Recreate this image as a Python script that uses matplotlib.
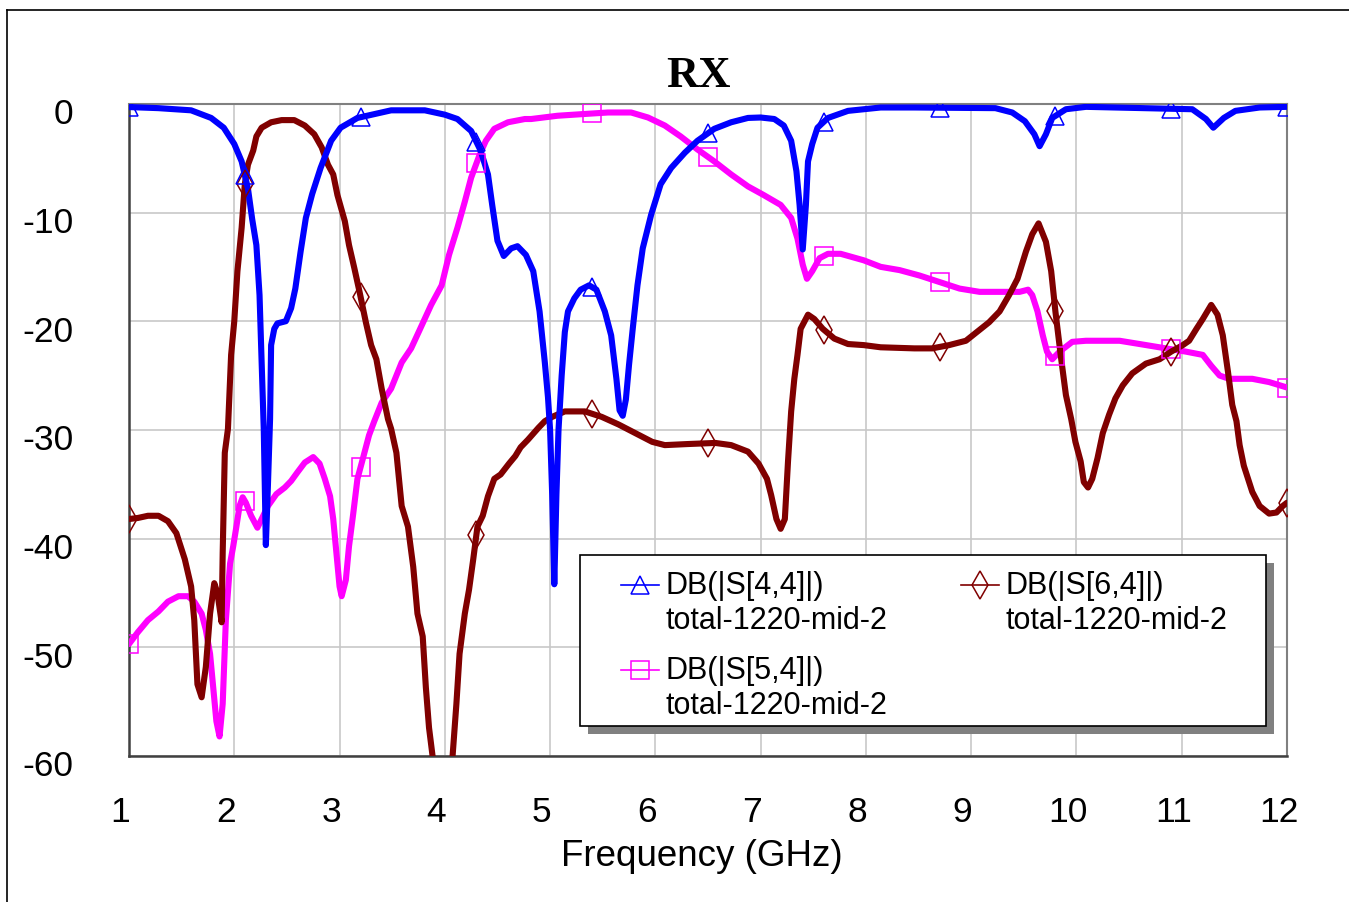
import numpy as np
import matplotlib
matplotlib.use("Agg")
import matplotlib.pyplot as plt
from matplotlib.lines import Line2D
from matplotlib.patches import Rectangle
from matplotlib.transforms import ScaledTranslation

plt.rcParams["axes.unicode_minus"] = False

# ---- data (frequency in GHz, magnitude in dB) ----
f_s44 = [1.0, 1.28, 1.59, 1.78, 1.9, 2.0, 2.07, 2.13, 2.17, 2.21, 2.24, 2.26, 2.28, 2.29, 2.30,
         2.32, 2.34, 2.35, 2.38, 2.41, 2.49, 2.54, 2.58, 2.63, 2.68, 2.74, 2.82, 2.92, 3.01, 3.17,
         3.49, 3.81, 4.0, 4.12, 4.25, 4.34, 4.41, 4.45, 4.5, 4.56, 4.63, 4.69, 4.77, 4.84, 4.9,
         4.95, 4.98, 5.0, 5.02, 5.04, 5.06, 5.08, 5.11, 5.14, 5.17, 5.23, 5.29, 5.37, 5.44, 5.52,
         5.58, 5.63, 5.66, 5.69, 5.72, 5.75, 5.785, 5.83, 5.88, 5.96, 6.05, 6.15, 6.28, 6.40, 6.56,
         6.72, 6.88, 7.0, 7.13, 7.22, 7.29, 7.34, 7.37, 7.40, 7.43, 7.45, 7.49, 7.54, 7.64, 7.83,
         8.14, 8.46, 9.23, 9.39, 9.51, 9.6, 9.65, 9.71, 9.77, 9.9, 10.09, 11.1, 11.23, 11.3, 11.4,
         11.51, 11.74, 12.0]
db_s44 = [-0.3, -0.4, -0.6, -1.3, -2.2, -3.7, -5.3, -7.8, -10.6, -13.0, -17.6, -23.8, -29.9, -35.2, -40.6,
          -35.0, -29.0, -22.2, -20.7, -20.2, -20.0, -18.8, -17.0, -13.6, -10.5, -8.3, -5.9, -3.4, -2.2, -1.3,
          -0.6, -0.6, -1.0, -1.4, -2.5, -4.3, -6.5, -9.3, -12.6, -14.0, -13.3, -13.1, -13.9, -15.4, -19.1,
          -23.8, -27.0, -30.0, -36.0, -44.2, -36.0, -30.0, -25.0, -21.0, -19.1, -17.9, -17.1, -16.7, -17.1, -19.1,
          -21.3, -25.3, -28.2, -28.7, -27.2, -24.0, -20.7, -16.7, -13.3, -10.2, -7.4, -5.9, -4.5, -3.4, -2.3,
          -1.7, -1.3, -1.26, -1.4, -2.0, -3.4, -6.2, -9.3, -13.4, -9.3, -5.3, -3.7, -2.2, -1.3, -0.65,
          -0.34, -0.34, -0.4, -0.8, -1.6, -2.8, -3.9, -2.8, -1.3, -0.5, -0.28, -0.5, -1.4, -2.2, -1.3,
          -0.65, -0.34, -0.28]

f_s64 = [1.0, 1.085, 1.18, 1.28, 1.37, 1.45, 1.53, 1.59, 1.62, 1.65, 1.69, 1.73, 1.77, 1.81, 1.84,
         1.88, 1.89, 1.91, 1.94, 1.97, 2.0, 2.03, 2.07, 2.1, 2.13, 2.18, 2.21, 2.26, 2.35, 2.45,
         2.57, 2.67, 2.76, 2.83, 2.89, 2.94, 2.98, 3.05, 3.09, 3.14, 3.19, 3.25, 3.3, 3.35, 3.4,
         3.46, 3.49, 3.54, 3.59, 3.65, 3.7, 3.74, 3.79, 3.82, 3.85, 3.89, 3.94, 3.98, 4.03, 4.07,
         4.11, 4.14, 4.19, 4.23, 4.27, 4.31, 4.36, 4.41, 4.47, 4.53, 4.61, 4.67, 4.72, 4.79, 4.89,
         4.95, 5.02, 5.14, 5.33, 5.49, 5.65, 5.81, 5.97, 6.09, 6.31, 6.57, 6.72, 6.88, 6.98, 7.06,
         7.1, 7.15, 7.19, 7.23, 7.26, 7.29, 7.32, 7.35, 7.38, 7.45, 7.51, 7.59, 7.7, 7.83, 7.98,
         8.14, 8.46, 8.63, 8.79, 8.95, 9.08, 9.17, 9.27, 9.36, 9.44, 9.52, 9.58, 9.64, 9.71, 9.76,
         9.8, 9.85, 9.9, 9.95, 9.99, 10.04, 10.07, 10.11, 10.15, 10.2, 10.25, 10.31, 10.37, 10.44, 10.53,
         10.66, 10.79, 10.9, 11.01, 11.07, 11.14, 11.2, 11.28, 11.34, 11.39, 11.44, 11.48, 11.52, 11.55, 11.59,
         11.63, 11.67, 11.74, 11.83, 11.9, 11.96, 12.0]
db_s64 = [-38.2, -38.1, -37.9, -37.9, -38.4, -39.5, -41.9, -44.4, -47.5, -53.4, -54.6, -51.8, -46.9, -44.1, -45.0,
          -47.7, -41.3, -32.1, -29.9, -23.1, -20.0, -15.4, -11.4, -7.4, -5.6, -4.3, -3.0, -2.2, -1.7, -1.5,
          -1.5, -2.0, -2.8, -4.0, -5.6, -6.5, -8.4, -10.8, -13.0, -15.1, -17.3, -20.1, -22.2, -23.5, -26.2,
          -29.0, -29.9, -32.1, -37.0, -38.9, -42.6, -46.9, -49.0, -53.7, -57.4, -60.5, -66.0, -70.0, -66.0, -60.5,
          -55.2, -50.6, -46.9, -44.7, -41.9, -38.9, -37.9, -36.1, -34.5, -34.1, -33.1, -32.4, -31.6, -30.9, -29.8,
          -29.2, -28.8, -28.3, -28.3, -28.8, -29.5, -30.3, -31.1, -31.4, -31.3, -31.2, -31.4, -32.0, -33.1, -34.5,
          -36.0, -38.2, -39.1, -38.2, -32.9, -28.3, -25.3, -23.1, -20.7, -19.4, -19.8, -20.7, -21.6, -22.1, -22.2,
          -22.4, -22.5, -22.5, -22.2, -21.8, -20.8, -20.1, -19.1, -17.6, -16.1, -13.6, -12.0, -11.0, -12.7, -15.4,
          -19.1, -23.1, -26.8, -29.0, -31.1, -32.9, -34.8, -35.3, -34.5, -32.6, -30.3, -28.6, -27.1, -25.9, -24.8,
          -23.9, -23.5, -22.8, -22.2, -21.8, -20.7, -19.8, -18.5, -19.4, -21.3, -24.7, -27.7, -29.2, -31.4, -33.3,
          -34.5, -35.7, -37.0, -37.7, -37.6, -37.0, -36.7]

f_s54 = [1.0, 1.085, 1.18, 1.28, 1.37, 1.47, 1.56, 1.62, 1.69, 1.73, 1.77, 1.8, 1.83, 1.86, 1.89,
         1.92, 1.96, 1.99, 2.02, 2.05, 2.08, 2.11, 2.16, 2.22, 2.26, 2.32, 2.4, 2.48, 2.54, 2.6,
         2.67, 2.75, 2.81, 2.86, 2.91, 2.94, 2.97, 3.0, 3.02, 3.06, 3.09, 3.13, 3.17, 3.22, 3.28,
         3.33, 3.4, 3.49, 3.59, 3.68, 3.78, 3.87, 3.97, 4.04, 4.12, 4.19, 4.25, 4.33, 4.39, 4.47,
         4.6, 4.76, 4.82, 5.07, 5.29, 5.55, 5.77, 5.93, 6.09, 6.24, 6.4, 6.56, 6.72, 6.88, 7.03,
         7.19, 7.29, 7.35, 7.4, 7.44, 7.49, 7.56, 7.64, 7.76, 7.98, 8.14, 8.32, 8.51, 8.7, 8.89,
         9.08, 9.27, 9.46, 9.54, 9.58, 9.63, 9.68, 9.72, 9.77, 9.84, 9.96, 10.09, 10.41, 10.6, 10.85,
         11.04, 11.2, 11.28, 11.36, 11.45, 11.67, 11.83, 12.0]
db_s54 = [-49.7, -48.6, -47.5, -46.7, -45.8, -45.3, -45.3, -45.8, -46.9, -48.4, -50.6, -53.7, -56.8, -58.2, -55.2,
          -47.5, -42.3, -40.7, -38.9, -37.0, -36.2, -36.7, -37.9, -39.0, -38.2, -37.0, -35.9, -35.3, -34.7, -33.9,
          -33.0, -32.5, -33.1, -34.5, -36.1, -38.2, -41.3, -44.4, -45.3, -43.8, -40.7, -37.7, -34.5, -32.7, -30.5,
          -29.2, -27.5, -26.2, -23.8, -22.5, -20.4, -18.5, -16.7, -13.9, -11.4, -9.0, -6.8, -4.7, -3.4, -2.3,
          -1.7, -1.4, -1.4, -1.1, -0.96, -0.8, -0.8, -1.26, -2.0, -3.0, -4.2, -5.3, -6.5, -7.6, -8.4,
          -9.3, -10.5, -12.4, -14.8, -16.1, -15.4, -14.2, -13.8, -13.8, -14.4, -15.0, -15.3, -15.8, -16.4, -17.0,
          -17.3, -17.3, -17.3, -17.1, -17.6, -19.1, -21.3, -22.8, -23.5, -22.8, -21.9, -21.8, -21.8, -22.1, -22.5,
          -22.8, -23.1, -24.1, -25.0, -25.3, -25.3, -25.6, -26.1]

marker_freqs = [1.0, 2.1, 3.2, 4.3, 5.4, 6.5, 7.6, 8.7, 9.8, 10.9, 12.0]

x_ticks = [1, 2, 3, 4, 5, 6, 7, 8, 9, 10, 11, 12]
y_ticks = [0, -10, -20, -30, -40, -50, -60]

label_line1 = ["DB(|S[4,4]|)", "DB(|S[6,4]|)", "DB(|S[5,4]|)"]
label_line2 = "total-1220-mid-2"

# ---- figure ----
W, H = 1349, 903
fig = plt.figure(figsize=(W / 100, H / 100), dpi=100)
fig.patch.set_facecolor("white")


def fx(px):
    return px / W


def fy(py):
    return 1 - py / H


ax = fig.add_axes([fx(129), fy(757), fx(1287) - fx(129), fy(104.8) - fy(757)])
ax.set_xlim(1, 12)
ax.set_ylim(-60, 0)

series = [
    (f_s54, db_s54, "#FF00FF", "s", 12.5),
    (f_s64, db_s64, "#800000", "d", 14),
    (f_s44, db_s44, "#0000FF", "^", 13),
]
for fr, db, col, mk, ms in series:
    ax.plot(fr, db, color=col, lw=4.4, solid_joinstyle="round", solid_capstyle="round", zorder=3)
    ax.plot(marker_freqs, np.interp(marker_freqs, fr, db), linestyle="none", marker=mk,
            markersize=ms, markerfacecolor="none", markeredgecolor=col, markeredgewidth=1.1, zorder=4)

ax.set_xticks(x_ticks)
ax.set_yticks(y_ticks)
ax.grid(True, color="#c8c8c8", lw=1.2)
ax.set_axisbelow(True)
ax.tick_params(length=0, labelsize=25.5)
ax.tick_params(axis="y", pad=40)
ax.tick_params(axis="x", pad=28)
for lab in ax.get_xticklabels() + ax.get_yticklabels():
    lab.set_fontfamily("Liberation Sans")
for lab in ax.get_yticklabels():
    lab.set_transform(lab.get_transform() + ScaledTranslation(0, -0.065, fig.dpi_scale_trans))
for lab in ax.get_xticklabels():
    lab.set_transform(lab.get_transform() + ScaledTranslation(-0.085, 0, fig.dpi_scale_trans))

for side in ("left", "bottom"):
    ax.spines[side].set_color("#404040")
    ax.spines[side].set_linewidth(1.8)
for side in ("top", "right"):
    ax.spines[side].set_color("#808080")
    ax.spines[side].set_linewidth(1.5)

ax.set_xlabel("Frequency (GHz)", fontsize=26.5, family="Liberation Sans")
ax.xaxis.set_label_coords((702 - 129) / (1287 - 129), (757 - 857) / (757 - 104.8))
ax.xaxis.label.set_va("center")

fig.text(fx(698), fy(76), "RX", fontsize=32, fontweight="bold", family="Liberation Serif",
         ha="center", va="center")

# outer frame
fig.add_artist(Line2D([fx(7), fx(7)], [fy(11), 0], color="black", lw=1.2, transform=fig.transFigure))
fig.add_artist(Line2D([fx(7), 1], [fy(11), fy(11)], color="black", lw=1.2, transform=fig.transFigure))

# legend panel with drop shadow
bx0, by0, bx1, by1 = 580, 556, 1266, 727
fig.add_artist(Rectangle((fx(bx0 + 8), fy(by1 + 8)), fx(bx1 - bx0), fy(by0) - fy(by1),
                         transform=fig.transFigure, facecolor="#808080", edgecolor="none", zorder=9))
fig.add_artist(Rectangle((fx(bx0), fy(by1)), fx(bx1 - bx0), fy(by0) - fy(by1),
                         transform=fig.transFigure, facecolor="white", edgecolor="black", lw=1.2, zorder=10))

legend_items = [
    ("#0000FF", "^", 13, label_line1[0], 621, 586),
    ("#800000", "d", 14, label_line1[1], 961, 586),
    ("#FF00FF", "s", 12.5, label_line1[2], 621, 671),
]
for col, mk, ms, txt, lx, ly in legend_items:
    fig.add_artist(Line2D([fx(lx), fx(lx + 38)], [fy(ly), fy(ly)], color=col, lw=1.2,
                          transform=fig.transFigure, zorder=11))
    fig.add_artist(Line2D([fx(lx + 19)], [fy(ly)], marker=mk, markersize=ms, markerfacecolor="none",
                          markeredgecolor=col, markeredgewidth=1.1, linestyle="none",
                          transform=fig.transFigure, zorder=11))
    fig.text(fx(lx + 44), fy(ly), txt, fontsize=22, family="Liberation Sans", ha="left", va="center",
             zorder=12)
    fig.text(fx(lx + 44), fy(ly + 35), label_line2, fontsize=22, family="Liberation Sans",
             ha="left", va="center", zorder=12)

fig.savefig("out.png", dpi=100)
